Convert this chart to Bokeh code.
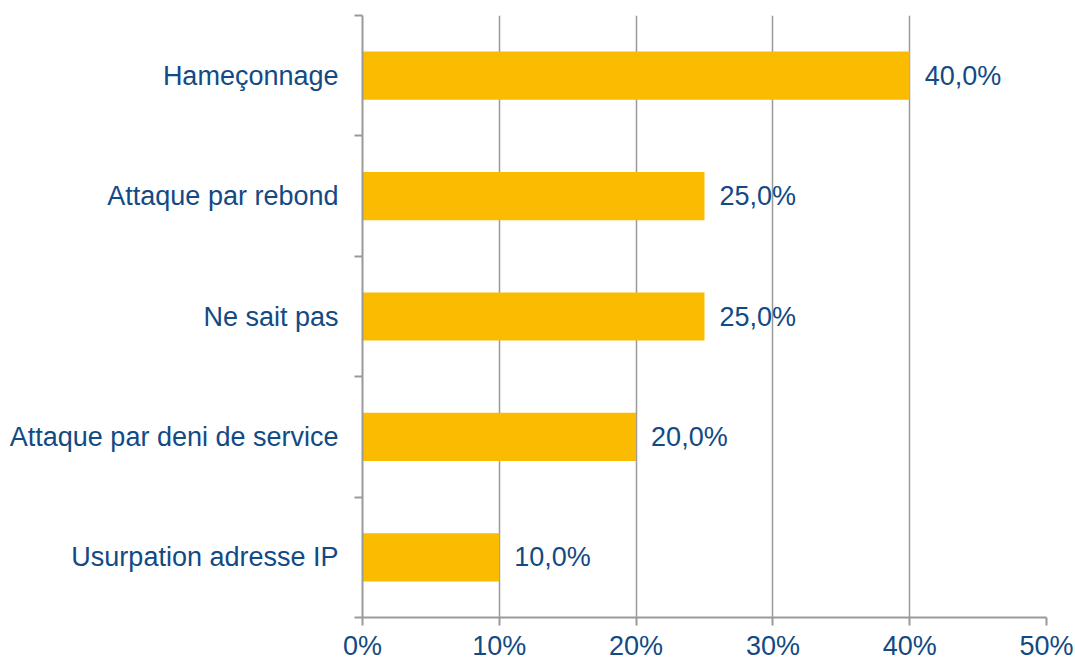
from bokeh.plotting import figure
from bokeh.models import ColumnDataSource, FixedTicker, NumeralTickFormatter, Range1d
from bokeh.core.properties import value
from bokeh.embed import file_html
from bokeh.resources import INLINE

categories = ["Hameçonnage", "Attaque par rebond", "Ne sait pas",
              "Attaque par deni de service", "Usurpation adresse IP"]
values = [0.40, 0.25, 0.25, 0.20, 0.10]
x_ticks = [0, 0.1, 0.2, 0.3, 0.4, 0.5]

n = len(categories)
ypos = [n - i - 0.5 for i in range(n)]
labels = [f"{v*100:.1f}%".replace(".", ",") for v in values]

src = ColumnDataSource(dict(y=ypos, v=values, lab=labels))

FONT = "Liberation Sans"
FS = "27px"
TXT = "#124A84"
GRAY = "#9a9a9a"

p = figure(frame_width=684, frame_height=602, output_backend="svg", toolbar_location=None,
           x_range=Range1d(0, 0.5), y_range=Range1d(0, n),
           min_border_left=362, min_border_right=29, min_border_top=15, min_border_bottom=40)
p.outline_line_color = None
p.background_fill_color = "white"

p.hbar(y="y", right="v", left=0, height=0.4, source=src, color="#FABB00", line_color=None)
p.text(x="v", y="y", text="lab", source=src, x_offset=15, text_baseline="middle",
       text_align="left", text_font=value(FONT), text_font_size=FS, text_color=TXT)

# x axis
p.xaxis.ticker = FixedTicker(ticks=x_ticks)
p.xaxis.formatter = NumeralTickFormatter(format="0%")
p.xaxis.axis_line_color = GRAY
p.xaxis.axis_line_width = 2
p.xaxis.major_tick_line_color = GRAY
p.xaxis.major_tick_line_width = 2
p.xaxis.major_tick_in = 0
p.xaxis.major_tick_out = 8
p.xaxis.minor_tick_line_color = None
p.xaxis.major_label_text_font = FONT
p.xaxis.major_label_text_font_size = FS
p.xaxis.major_label_text_color = TXT
p.xaxis.major_label_standoff = 5

# y axis
p.yaxis.ticker = FixedTicker(ticks=ypos, minor_ticks=list(range(n + 1)))
p.yaxis.major_label_overrides = {y: c for y, c in zip(ypos, categories)}
p.yaxis.axis_line_color = GRAY
p.yaxis.axis_line_width = 2
p.yaxis.major_tick_line_color = None
p.yaxis.major_tick_in = 0
p.yaxis.major_tick_out = 0
p.yaxis.minor_tick_line_color = GRAY
p.yaxis.minor_tick_line_width = 2
p.yaxis.minor_tick_in = 0
p.yaxis.minor_tick_out = 8
p.yaxis.major_label_text_font = FONT
p.yaxis.major_label_text_font_size = FS
p.yaxis.major_label_text_color = TXT
p.yaxis.major_label_standoff = 16

p.xgrid.ticker = FixedTicker(ticks=x_ticks)
p.xgrid.grid_line_color = GRAY
p.xgrid.grid_line_width = 1.5
p.ygrid.grid_line_color = None

open("out.html", "w").write(file_html(p, INLINE))
